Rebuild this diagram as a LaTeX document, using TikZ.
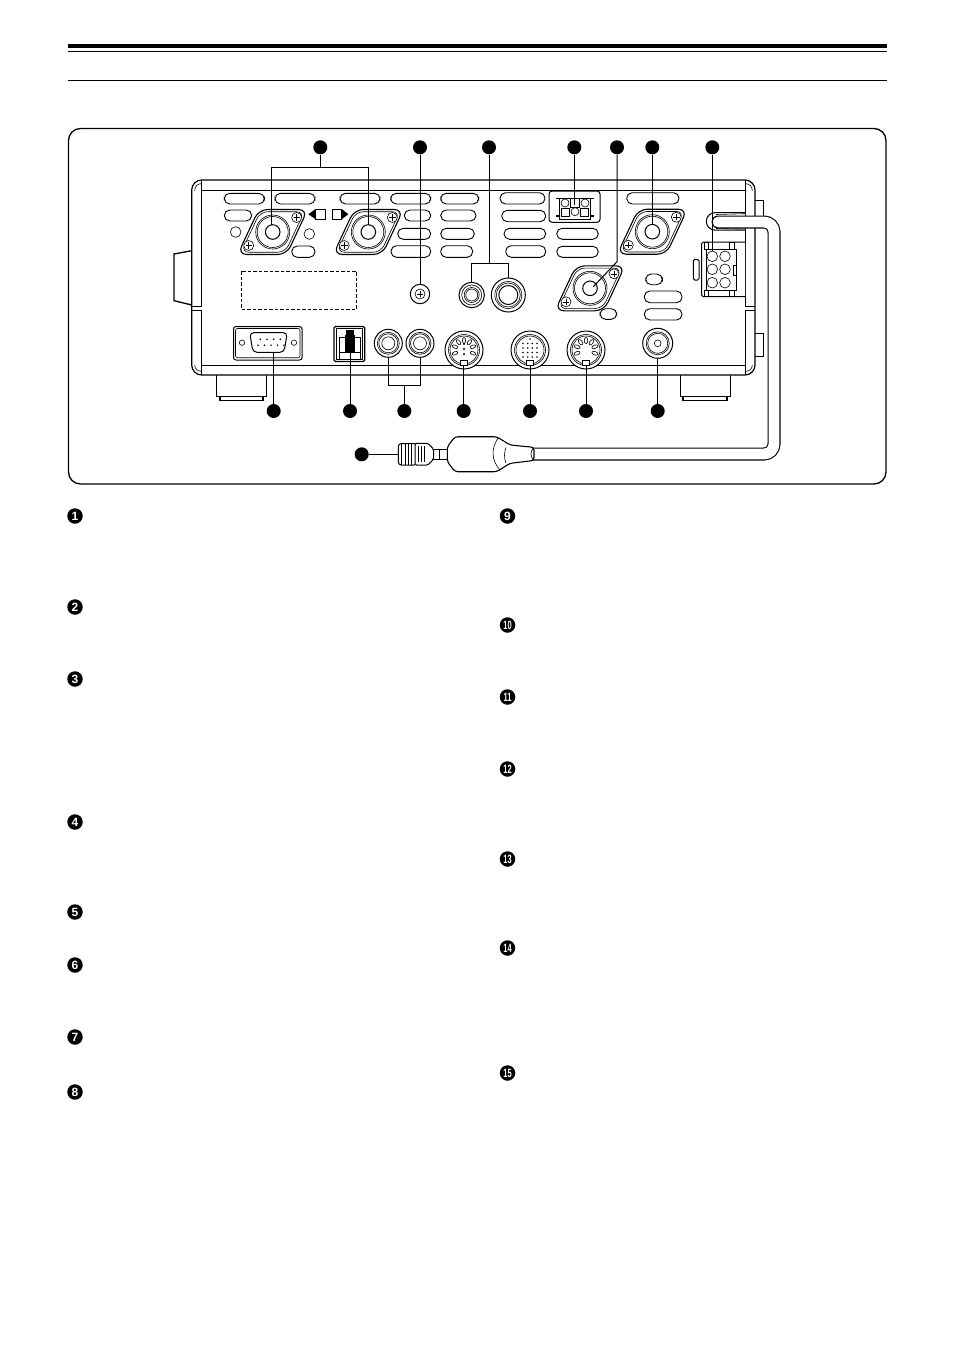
\documentclass[tikz,border=0pt]{standalone}
\usepackage{fontspec}
\setsansfont{Liberation Sans}
\tikzset{
  partline/.style={line width=1pt,fill=white},
  thinline/.style={line width=0.6pt},
  slotline/.style={line width=0.9pt,rounded corners=5.5pt},
  leadline/.style={line width=1pt},
  calldot/.style={circle,fill=black,inner sep=0pt,minimum size=14pt},
  numbadge/.style={circle,fill=black,text=white,inner sep=0pt,minimum size=15.5pt,font=\sffamily\bfseries\fontsize{12}{12}\selectfont},
  screwhead/.pic={
    \draw[thinline,fill=white] (0,0) circle (5pt);
    \draw[thinline] (-3.2,0) -- (3.2,0) (0,-3.2) -- (0,3.2);
  },
  flangeport/.pic={
    \draw[line width=1.1pt,fill=white,rounded corners=9pt] (-14,-22.5) -- (35,-22.5) -- (14,22.5) -- (-35,22.5) -- cycle;
    \draw[thinline,rounded corners=7.5pt,scale=0.9] (-14,-22.5) -- (35,-22.5) -- (14,22.5) -- (-35,22.5) -- cycle;
    \draw[thinline] (0,0) circle (17pt);
    \draw[thinline] (0,0) circle (15.5pt);
    \draw[partline] (0,0) circle (7.3pt);
    \pic at (24,-14.5) {screwhead};
    \pic at (-24,13.5) {screwhead};
  },
  dinbase/.pic={
    \draw[partline] (0,0) circle (19pt);
    \draw[thinline] (0,0) circle (15.5pt);
    \draw[thinline] (0,0) circle (14pt);
    \draw[partline,line width=0.7pt] (-3.3,10) rectangle (3.3,15);
  },
}
\begin{document}
\begin{tikzpicture}[x=1pt,y=-1pt]
\useasboundingbox (0,0) rectangle (954,1349);
% page rules and frame
\draw[line width=4pt] (68,46) -- (887,46);
\draw[line width=1pt] (68,51) -- (887,51);
\draw[line width=1pt] (68,80) -- (887,80);
\draw[line width=1.3pt,rounded corners=12pt] (68.5,128.5) rectangle (886,484);
% side knob and feet
\draw[partline,line width=1.3pt] (191.7,250.7) -- (174,254) -- (174,300.7) -- (191.7,305);
\draw[partline] (216.7,375) -- (216.7,396.7) -- (266.7,396.7) -- (266.7,375);
\draw[partline,line width=1.3pt] (220,396.7) rectangle (263,400.7);
\draw[partline] (680,375) -- (680,396.7) -- (730,396.7) -- (730,375);
\draw[partline,line width=1.3pt] (683,396.7) rectangle (727,400.7);
\draw[partline] (755,200) -- (763.3,200) -- (763.3,216.7) -- (755,216.7);
\draw[partline] (755,333) -- (763.3,333) -- (763.3,356) -- (755,356);
% chassis
\draw[line width=1.2pt,fill=white,rounded corners=10pt] (191.7,180) rectangle (755,375);
\draw[line width=1pt] (201.7,190.7) -- (745,190.7);
\draw[line width=1pt] (201.7,365) -- (745,365);
\draw[partline,fill=none] (201.7,180.5) -- (201.7,306.5) -- (191.7,306.5);
\draw[partline,fill=none] (191.7,310) -- (201.7,310) -- (201.7,374.5);
\draw[partline,fill=none] (745,180.5) -- (745,306.5) -- (755,306.5);
\draw[partline,fill=none] (755,310) -- (745,310) -- (745,374.5);
\draw[thinline] (201.7,183.5) .. controls (197,184) and (195,186) .. (194.7,190.7);
\draw[thinline] (745,183.5) .. controls (750,184) and (752,186) .. (752.3,190.7);
\draw[thinline] (201.7,371.5) .. controls (197,371) and (195,369) .. (194.7,365);
\draw[thinline] (745,371.5) .. controls (750,371) and (752,369) .. (752.3,365);
% vent slots
\foreach \xa/\xb/\ya/\yb in {224.3/264.3/193.3/204,275/315/193.3/204,340/380/193.3/204,390.7/430.7/193.3/204,440.7/478.7/193.3/204,
    224.3/251.7/210/221,404.3/430.7/210/221,440.7/476/210/221,397.7/430.7/228.3/239.3,440.7/474.3/228.3/239.3,
    391/430.7/245.7/257.3,440.7/472.7/245.7/257.3,291.7/315/246/257.3,500/545/192.7/204,501.7/545.7/210.3/221.7,
    504/545.7/228.3/239.3,505.7/545.7/245.7/257.3,556.7/598.3/228.3/239.3,556.7/598.3/246.3/257.3,626.7/679/192.7/204,
    645.7/662.3/274/284.7,644.3/682/291/302.7,644.3/682/308.7/320,600/616.7/308.7/319.3}
  \draw[slotline] (\xa,\ya) rectangle (\xb,\yb);
\draw[thinline] (235.7,232) circle (5.3pt);
\draw[thinline] (309.3,234) circle (5.3pt);
\draw[thinline,dashed,dash pattern=on 3.5pt off 2pt] (241.3,271.3) rectangle (356.7,309.3);
% antenna flanges
\pic at (272.7,232) {flangeport};
\pic at (368.3,232) {flangeport};
\pic at (652.3,231.7) {flangeport};
\pic at (590,288.3) {flangeport};
% direction marks
\draw[partline] (315.7,209) rectangle (325,219.3);
\fill (315.7,209) -- (308.3,214.2) -- (315.7,219.3) -- cycle;
\draw[partline] (332.3,209) rectangle (341.7,219.3);
\fill (341.7,209) -- (348.3,214.2) -- (341.7,219.3) -- cycle;
% ground screw and phono jacks
\draw[partline] (420,294) circle (9.7pt);
\pic at (420,294) {screwhead};
\draw[partline] (471.7,295) circle (12.7pt);
\draw[thinline] (471.7,295) circle (10pt);
\draw[thinline] (471.7,295) circle (7.5pt);
\draw[thinline] (471.7,295) circle (6pt);
\draw[partline] (508.3,295) circle (17pt);
\draw[thinline] (508.3,295) circle (13.5pt);
\draw[thinline] (508.3,295) circle (12pt);
\draw[partline] (508.3,295) circle (9.5pt);
% dc power socket
\draw[partline,rounded corners=3pt] (549,191) rectangle (600,222.3);
\draw[line width=1.2pt] (556,198.5) -- (560,198.5) (590,198.5) -- (594,198.5) (556,216) -- (560,216) (590,216) -- (594,216);
\draw[partline] (559.3,198.3) rectangle (590,219);
\draw[thinline] (570,198.3) rectangle (579,207);
\draw[thinline] (565,203) circle (4pt);
\draw[thinline] (585,203) circle (4pt);
\draw[thinline] (561,208) rectangle (569.3,216.3);
\draw[thinline] (580,208) rectangle (588.3,216.3);
\draw[thinline,fill=white] (575,211.7) circle (4pt);
% rear d-sub
\draw[partline,rounded corners=2.5pt] (233.5,326.5) rectangle (302,360);
\draw[thinline,rounded corners=2pt] (235.5,328.5) rectangle (300,357.7);
\draw[line width=1pt,fill=white,rounded corners=4pt] (249.7,332.7) -- (287.3,332.7) -- (284,352.3) -- (253,352.3) -- cycle;
\draw[thinline] (242,342.7) circle (2.7pt);
\draw[thinline] (294,342.7) circle (2.7pt);
\foreach \px in {260.3,267,273.7,280.3} \fill (\px,339.3) circle (0.9pt);
\foreach \px in {258,264.5,271,277.5,284} \fill (\px,345.3) circle (0.9pt);
% modular jack
\draw[line width=1.2pt,fill=white,rounded corners=1.5pt] (334,326.5) rectangle (364.7,361.5);
\draw[thinline] (336.3,328.3) rectangle (362.3,359.3);
\draw[thinline] (339.7,337.3) rectangle (360,359.3);
\draw[thinline] (339.7,352.3) -- (360,352.3);
\fill (344.7,335) rectangle (354.7,352.3);
\fill (346.3,330) rectangle (353.7,335);
% rca pair
\foreach \cx in {388.3,420} {
  \draw[partline] (\cx,343.3) circle (14pt);
  \draw[thinline] (\cx,343.3) circle (11pt);
  \draw[thinline] (\cx,343.3) circle (9.5pt);
  \draw[thinline] (\cx,343.3) circle (6.5pt);
}
% din sockets
\pic at (464,350) {dinbase};
\pic at (530,350) {dinbase};
\pic at (586,350) {dinbase};
\foreach \ang in {20,55,90,125,160,200,340} {
  \draw[thinline,fill=white,rotate around={\ang:(464,350)}] (473.5,350) ellipse (3pt and 1.6pt);
  \draw[thinline,fill=white,rotate around={\ang:(586,350)}] (595.5,350) ellipse (3.2pt and 1.7pt);
}
\foreach \py in {344,349,354} \fill (464,\py) circle (1.2pt);
\foreach \px in {523,527.7,532.3,537} \foreach \py in {343.5,348,352.5,357}
  \fill (\px,\py) circle (0.9pt);
\fill (530,339) circle (0.9pt);
% bnc jack
\draw[partline] (657.7,343.3) circle (15pt);
\draw[thinline] (657.7,343.3) circle (11.5pt);
\draw[thinline] (657.7,343.3) circle (10pt);
\draw[thinline] (657.7,343.3) circle (3.4pt);
% molex block
\draw[partline,rounded corners=1.5pt] (745,242) -- (701.7,242) -- (701.7,296.7) -- (745,296.7);
\draw[partline,rounded corners=1.5pt] (693.3,259.3) rectangle (699,280);
\foreach \px in {704,729.3} {
  \draw[thinline] (\px,242) rectangle ++(4.5,7.3);
  \draw[thinline] (\px,290) rectangle ++(4.5,6.7);
}
\draw[partline] (706.7,249.3) rectangle (736.7,290);
\draw[thinline] (736.7,265) rectangle (733.5,275);
\foreach \py in {256.3,269.3,282.7} {
  \draw[thinline] (712.3,\py) circle (5.3pt);
  \draw[thinline] (725,\py) circle (5.3pt);
}
% grommet and cable
\draw[partline] (745,212.7) -- (715,212.7) arc[start angle=90,delta angle=180,radius=8.7pt] -- (745,230);
\draw[thinline] (716,214.5) -- (745,213.7) (716,228.5) -- (745,229.2);
\draw[line width=13pt,line cap=round,rounded corners=10pt] (718,222) -- (774,222) -- (774,454) -- (530,454);
\draw[line width=10.8pt,line cap=round,rounded corners=10pt,white] (718,222) -- (774,222) -- (774,454) -- (530,454);
% plug on the cable
\draw[partline,rounded corners=3pt] (398.3,443.5) rectangle (417,465);
\foreach \px in {401.7,405,408.3,411.7} \draw[thinline] (\px,444) -- (\px,464.5);
\draw[partline] (433,449) -- (447.3,449) -- (447.3,459.3) -- (433,459.3) -- cycle;
\draw[thinline] (439,449) -- (439,459.3);
\draw[partline,rounded corners=1.5pt] (415,443.3) -- (428,443.3) -- (433.5,449) -- (433.5,459.3) -- (428,465) -- (415,465) -- cycle;
\foreach \px in {418,421,424} \draw[thinline] (\px,446) -- (\px,462);
\draw[line width=1.1pt,fill=white,rounded corners=3pt] (447.3,446.7) -- (455,436.7) -- (496.7,436.7) -- (510,445) -- (534,447.3) -- (534,460.5) -- (510,463.3) -- (496.7,471.7) -- (455,471.7) -- (447.3,461.7) -- cycle;
\draw[thinline] (498.3,438) .. controls (491,448) and (491,460) .. (500,470);
\draw[thinline] (506,447.5) .. controls (504,452) and (504,459) .. (506,463);
\draw[thinline] (534,447.5) .. controls (530,451) and (530,457) .. (534,460.3);
% callouts on top
\node[calldot] (dotA) at (320.3,147.3) {};
\node[calldot] (dotB) at (420,147.3) {};
\node[calldot] (dotC) at (489,147.3) {};
\node[calldot] (dotD) at (574.3,147.3) {};
\node[calldot] (dotE) at (617,147.3) {};
\node[calldot] (dotF) at (652.3,147.3) {};
\node[calldot] (dotG) at (712.3,147.3) {};
\coordinate (brkA) at (320.3,167.3);
\coordinate (tipA) at (271.7,225);
\coordinate (tipAa) at (368.3,225);
\coordinate (tipB) at (420,284);
\coordinate (brkC) at (489,263.3);
\coordinate (tipC) at (471.7,282.3);
\coordinate (tipCa) at (508.3,278);
\coordinate (tipD) at (574.3,205);
\coordinate (bendE) at (617,261.7);
\coordinate (tipE) at (593.3,286.7);
\coordinate (tipF) at (652.3,225);
\coordinate (tipG) at (712.3,251);
\draw[leadline] (dotA) -- (brkA);
\draw[leadline] (tipA) |- (brkA) -| (tipAa);
\draw[leadline] (dotB) -- (tipB);
\draw[leadline] (dotC) -- (brkC);
\draw[leadline] (tipC) |- (brkC) -| (tipCa);
\draw[leadline] (dotD) -- (tipD);
\draw[leadline] (dotE) -- (bendE) -- (tipE);
\draw[leadline] (dotF) -- (tipF);
\draw[leadline] (dotG) -- (tipG);
% callouts below
\node[calldot] (dotH) at (273.7,411) {};
\node[calldot] (dotI) at (350,411) {};
\node[calldot] (dotJ) at (404.3,411) {};
\node[calldot] (dotK) at (463.7,411) {};
\node[calldot] (dotL) at (530,411) {};
\node[calldot] (dotM) at (586,411) {};
\node[calldot] (dotN) at (657.7,411) {};
\node[calldot] (dotO) at (361.7,454.3) {};
\coordinate (tipH) at (273.7,352.3);
\coordinate (tipI) at (350,352);
\coordinate (brkJ) at (404.3,385.3);
\coordinate (tipJ) at (388.3,357.3);
\coordinate (tipJa) at (420,357.3);
\coordinate (tipK) at (463.7,365);
\coordinate (tipL) at (530,365);
\coordinate (tipM) at (586,365);
\coordinate (tipN) at (657.7,358.3);
\coordinate (tipO) at (398.3,454.3);
\draw[leadline] (dotH) -- (tipH);
\draw[leadline] (dotI) -- (tipI);
\draw[leadline] (dotJ) -- (brkJ);
\draw[leadline] (tipJ) |- (brkJ) -| (tipJa);
\draw[leadline] (dotK) -- (tipK);
\draw[leadline] (dotL) -- (tipL);
\draw[leadline] (dotM) -- (tipM);
\draw[leadline] (dotN) -- (tipN);
\draw[leadline] (dotO) -- (tipO);
% numbered list badges
\foreach \nr/\py in {1/516,2/607,3/679,4/822,5/912,6/965,7/1037,8/1092}
  \node[numbadge] (num\nr) at (75,\py) {\nr};
\foreach \nr/\py in {9/516}
  \node[numbadge] (num\nr) at (507.5,\py) {\nr};
\foreach \nr/\py in {10/625,11/697,12/769,13/859,14/948,15/1073}
  \node[numbadge] (num\nr) at (507.5,\py) {\scalebox{0.62}[1]{\nr}};
\end{tikzpicture}
\end{document}
